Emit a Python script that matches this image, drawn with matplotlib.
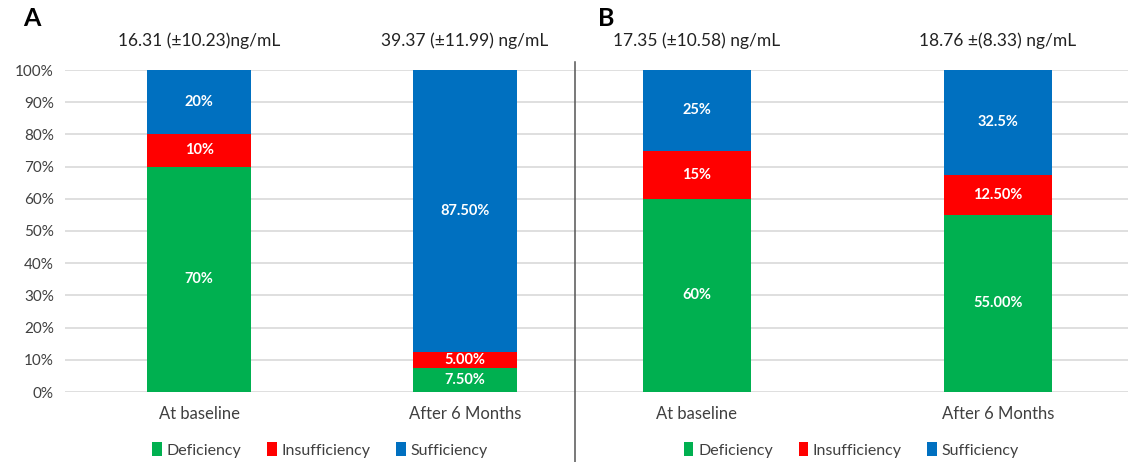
import numpy as np
import matplotlib.pyplot as plt
from matplotlib.lines import Line2D

plt.rcParams['font.family'] = ['Lato', 'DejaVu Sans']

# data
categories = ["At baseline", "After 6 Months"]
series = ["Deficiency", "Insufficiency", "Sufficiency"]
colors = ["#00B050", "#FF0000", "#0070C0"]

a_deficiency = [70, 7.5]
a_insufficiency = [10, 5]
a_sufficiency = [20, 87.5]
a_labels = [["70%", "7.50%"], ["10%", "5.00%"], ["20%", "87.50%"]]
a_titles = ["16.31 (±10.23)ng/mL", "39.37 (±11.99) ng/mL"]

b_deficiency = [60, 55]
b_insufficiency = [15, 12.5]
b_sufficiency = [25, 32.5]
b_labels = [["60%", "55.00%"], ["15%", "12.50%"], ["25%", "32.5%"]]
b_titles = ["17.35 (±10.58) ng/mL", "18.76 ±(8.33) ng/mL"]

yticks = np.arange(0, 101, 10)

W, H = 1138, 462
fig = plt.figure(figsize=(W / 100, H / 100), dpi=100)

def px(x0, x1):
    return [x0 / W, (H - 392) / H, (x1 - x0) / W, 322 / H]

ax_a = fig.add_axes(px(65, 575))
ax_b = fig.add_axes(px(575, 1128))

def draw(ax, vals, labels, titles, xlim, width, show_y):
    x = np.arange(len(categories))
    bottom = np.zeros(len(categories))
    handles = []
    for v, lab, c, name in zip(vals, labels, colors, series):
        bars = ax.bar(x, v, width, bottom=bottom, color=c, label=name, zorder=3)
        for xi, b0, vi, t in zip(x, bottom, v, lab):
            ax.text(xi, b0 + vi / 2, t, ha='center', va='center', color='white',
                    fontsize=10.5, fontweight='bold', zorder=4)
        bottom = bottom + np.array(v)
        handles.append(bars)
    for xi, t in zip(x, titles):
        ax.text(xi, 109, t, ha='center', va='center', fontsize=12.5, color='#222222', clip_on=False)
    ax.set_xlim(*xlim)
    ax.set_ylim(0, 100)
    ax.set_yticks(yticks)
    ax.yaxis.grid(True, color='#D9D9D9', lw=1.2, zorder=0)
    ax.set_axisbelow(True)
    for s in ax.spines.values():
        s.set_visible(False)
    ax.set_xticks(x)
    ax.set_xticklabels(categories, fontsize=12, color='#404040')
    ax.tick_params(axis='x', length=0, pad=10)
    ax.tick_params(axis='y', length=0, pad=8, labelsize=11, labelcolor='#404040')
    if show_y:
        ax.set_yticklabels([f"{t}%" for t in yticks])
    else:
        ax.set_yticklabels([])
    ax.legend(handles=handles, loc='center', bbox_to_anchor=(0.5, -58 / 322), ncol=3,
              frameon=False, fontsize=11.5, handlelength=0.6, handleheight=0.9,
              handletextpad=0.3, columnspacing=1.6, labelcolor='#404040',
              borderpad=0.1)

draw(ax_a, [a_deficiency, a_insufficiency, a_sufficiency], a_labels, a_titles,
     (-0.505, 1.414), 0.39, True)
draw(ax_b, [b_deficiency, b_insufficiency, b_sufficiency], b_labels, b_titles,
     (-0.405, 1.432), 0.36, False)

# divider and panel letters
fig.add_artist(Line2D([575 / W, 575 / W], [0, 1 - 62 / H], color='#555555', lw=1.1))
fig.text(32 / W, 1 - 18 / H, "A", fontsize=18, fontweight='bold', ha='center', va='center')
fig.text(606 / W, 1 - 18 / H, "B", fontsize=18, fontweight='bold', ha='center', va='center')

fig.savefig("out.png", dpi=100)
